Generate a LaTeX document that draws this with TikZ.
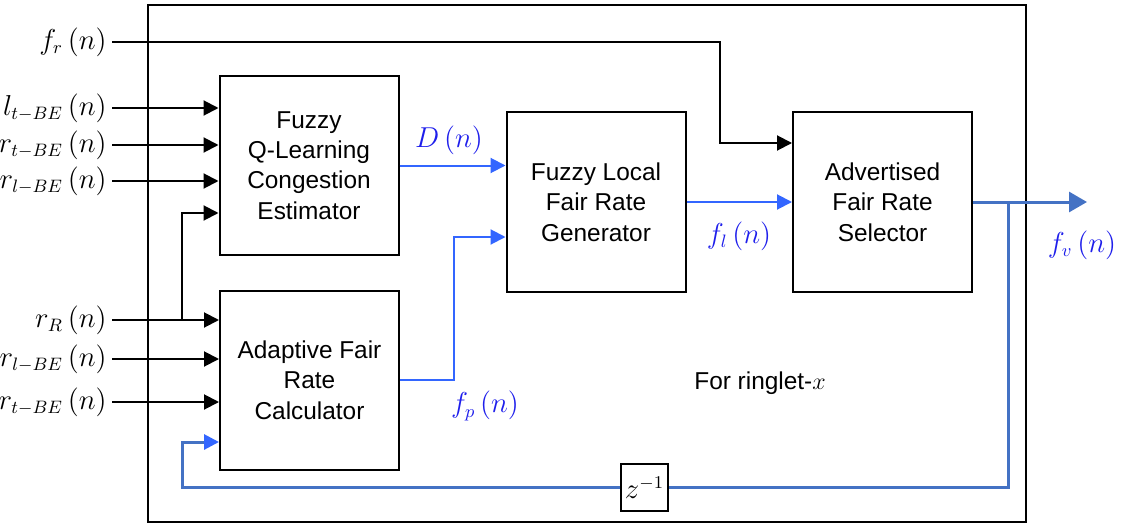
\documentclass[tikz,border=0pt]{standalone}
\usepackage{fontspec}
\setsansfont{Liberation Sans}
\usetikzlibrary{arrows.meta,calc}
\DeclareMathSizes{15.5}{15.5}{9}{7}
\definecolor{lblblue}{RGB}{30,30,235}
\definecolor{sigblue}{RGB}{51,102,255}
\definecolor{fbblue}{RGB}{68,114,196}
\tikzset{
  blk/.style={draw, line width=1pt, minimum width=89.5pt, minimum height=89.5pt,
    align=center, inner sep=0pt, font=\sffamily\fontsize{12.2}{15.2}\selectfont},
  inlab/.style={anchor=east, inner xsep=2.5pt, font=\fontsize{15.5}{19}\selectfont},
  siglab/.style={text=lblblue, font=\fontsize{15.5}{19}\selectfont},
  wire/.style={line width=1pt, -{Triangle[length=7.5pt,width=7.5pt]}},
  sig/.style={sigblue, line width=1pt, -{Triangle[length=7.5pt,width=7.5pt]}},
  fb/.style={fbblue, line width=1.5pt},
}
\begin{document}
\begin{tikzpicture}[x=0.5pt, y=-0.5pt]
	\useasboundingbox (0,0) rectangle (1123,524);
	\draw[line width=0.8pt] (148,5) rectangle (1026,522);
	% blocks
	\node[blk] (est) at (309,165.5) {Fuzzy\\Q-Learning\\Congestion\\Estimator};
	\node[blk] (calc) at (309.5,380) {Adaptive Fair\\Rate\\Calculator};
	\node[blk] (gen) at (596,202) {Fuzzy Local\\Fair Rate\\Generator};
	\node[blk] (sel) at (882.5,202) {Advertised\\Fair Rate\\Selector};
	\node[draw, line width=1pt, minimum size=23.5pt, inner sep=0pt,
	  font=\fontsize{15.5}{19}\selectfont] (dly) at (644.5,487.5) {$z^{-1}$};
	\node[font=\sffamily\fontsize{12.2}{15}\selectfont] (ring) at (760,383) {For ringlet-$x$};
	% inputs
	\foreach \nm/\yy/\tx in {a1/108/l_{t-BE}, a2/145/r_{t-BE}, a3/181/r_{l-BE}} {
		\node[inlab] (\nm) at (112,\yy) {$\tx\left(n\right)$};
		\draw[wire] (\nm.east) -- (\nm.east -| est.west);
	}
	\foreach \nm/\yy/\tx in {b1/320/r_R, b2/359/r_{l-BE}, b3/402/r_{t-BE}} {
		\node[inlab] (\nm) at (112,\yy) {$\tx\left(n\right)$};
		\draw[wire] (\nm.east) -- (\nm.east -| calc.west);
	}
	\coordinate (tap) at (182,320);
	\draw[wire] (tap) |- ($(est.west)+(0,47.5)$);
	\node[inlab] (fr) at (112,42) {$f_r\left(n\right)$};
	\coordinate (frin) at ($(sel.west)+(0,-59)$);
	\draw[wire] (fr.east) -| ($(frin)+(-72,0)$) -- (frin);
	% signals
	\draw[sig] (est.east) -- (est.east -| gen.west);
	\node[siglab] (dlab) at (449,140) {$D\left(n\right)$};
	\coordinate (fpin) at ($(gen.west)+(0,35)$);
	\draw[sig] (calc.east) -| ($(fpin)+(-52,0)$) -- (fpin);
	\node[siglab] (fplab) at (485,406) {$f_p\left(n\right)$};
	\draw[sig] (gen.east) -- (sel.west);
	\node[siglab] (fllab) at (739,236) {$f_l\left(n\right)$};
	% output and feedback
	\coordinate (fvend) at (1087,202);
	\draw[fb, -{Triangle[length=9pt,width=10pt]}] (sel.east) -- (fvend);
	\node[siglab] (fvlab) at (1082,245) {$f_v\left(n\right)$};
	\coordinate (tap2) at (1008,202);
	\draw[fb] (tap2) |- (dly.east);
	\coordinate (fbin) at ($(calc.west)+(0,62)$);
	\draw[fb, -{Triangle[length=7.5pt,width=7.5pt,color=sigblue]}] (dly.west) -| ($(fbin)+(-37,0)$) -- (fbin);
\end{tikzpicture}
\end{document}
